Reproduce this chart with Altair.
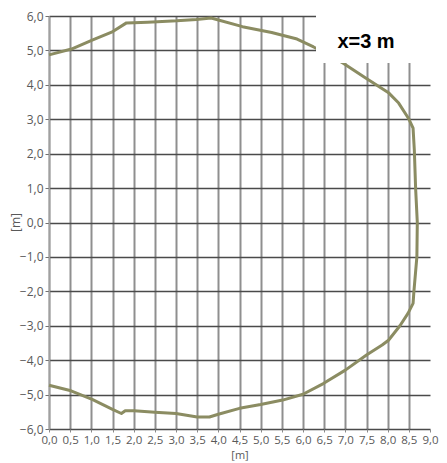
import altair as alt
import pandas as pd

# Curve (metres)
curve_x = [0.0, 0.53, 1.02, 1.48, 1.83, 2.33, 3.02, 3.48, 3.83, 4.57, 5.26, 5.86, 6.25,
           6.6, 6.95, 7.48, 8.03, 8.26, 8.49, 8.6, 8.63, 8.66, 8.7, 8.69, 8.62, 8.6, 8.48,
           8.29, 8.02, 7.87, 7.5, 7.0, 6.48, 6.0, 5.52, 5.0, 4.5, 4.0, 3.79, 3.5, 3.0,
           2.5, 2.01, 1.8, 1.71, 1.5, 1.02, 0.52, 0.0]
curve_y = [4.87, 5.04, 5.3, 5.53, 5.8, 5.82, 5.86, 5.9, 5.94, 5.69, 5.52, 5.33, 5.1,
           4.88, 4.63, 4.2, 3.76, 3.47, 3.03, 2.74, 2.1, 1.0, 0.0, -1.0, -2.0, -2.35, -2.64,
           -3.0, -3.42, -3.56, -3.85, -4.29, -4.68, -4.99, -5.16, -5.29, -5.4, -5.57, -5.65, -5.65, -5.55,
           -5.51, -5.47, -5.47, -5.55, -5.43, -5.14, -4.89, -4.73]

x_ticks = [i * 0.5 for i in range(19)]
y_ticks = list(range(-6, 7))
annotation = ["x=3 m"]

df = pd.DataFrame({"x": curve_x, "y": curve_y, "order": list(range(len(curve_x)))})

label_expr = "replace(format(datum.value, '.1f'), '.', ',')"
FONT = "Open Sans"
W = 381

line = alt.Chart(df).mark_line(color="#8b8c62", strokeWidth=3, strokeJoin="round").encode(
    x=alt.X("x:Q",
            scale=alt.Scale(domain=[0, 9], nice=False, zero=False),
            axis=alt.Axis(values=x_ticks, title="[m]", labelExpr=label_expr,
                          domain=False, tickSize=3, tickColor="#8a8a8a", tickWidth=1,
                          labelPadding=2, labelColor="#595959", labelFontSize=11.5, labelFont=FONT,
                          labelAngle=0, labelFlush=False,
                          titleFont=FONT, titleFontSize=11, titleFontWeight="normal",
                          titleColor="#595959", titlePadding=4,
                          grid=True, gridColor="#8f8f8f", gridWidth=2,
                          gridOpacity={"condition": {"test": "datum.value >= 9", "value": 0}, "value": 1})),
    y=alt.Y("y:Q",
            scale=alt.Scale(domain=[-6, 6], nice=False, zero=False),
            axis=alt.Axis(values=y_ticks, title="[m]", labelExpr=label_expr,
                          domain=True, domainColor="#a0a0a0", domainWidth=1.5,
                          tickSize=4, tickColor="#707070", labelPadding=2,
                          labelColor="#595959", labelFontSize=12, labelFont=FONT,
                          labelFlush=False,
                          titleFont=FONT, titleFontSize=12, titleFontWeight="normal",
                          titleColor="#595959", titleX=-34, titleY=206, titleAngle=270,
                          titleBaseline="middle", titleAlign="center",
                          grid=True, gridColor="#4a4a4a", gridWidth=1.5)),
    order="order:Q",
)

box = alt.Chart(pd.DataFrame({"a": [0]})).mark_rect(color="white").encode(
    x=alt.value(267), x2=alt.value(420), y=alt.value(-20), y2=alt.value(47)
)

text = alt.Chart(pd.DataFrame({"t": annotation})).mark_text(
    font="Liberation Sans", fontSize=20, fontWeight="bold", color="black",
    align="center", baseline="alphabetic"
).encode(text="t:N", x=alt.value(317), y=alt.value(32))

chart = alt.layer(line, box, text).properties(
    width=W, height=413,
    autosize=alt.AutoSizeParams(type="none"),
    padding={"left": 41, "top": 8, "right": 9, "bottom": 34},
).configure_view(stroke=None)

chart.save("out.html", embed_options={"renderer": "svg", "actions": False})
